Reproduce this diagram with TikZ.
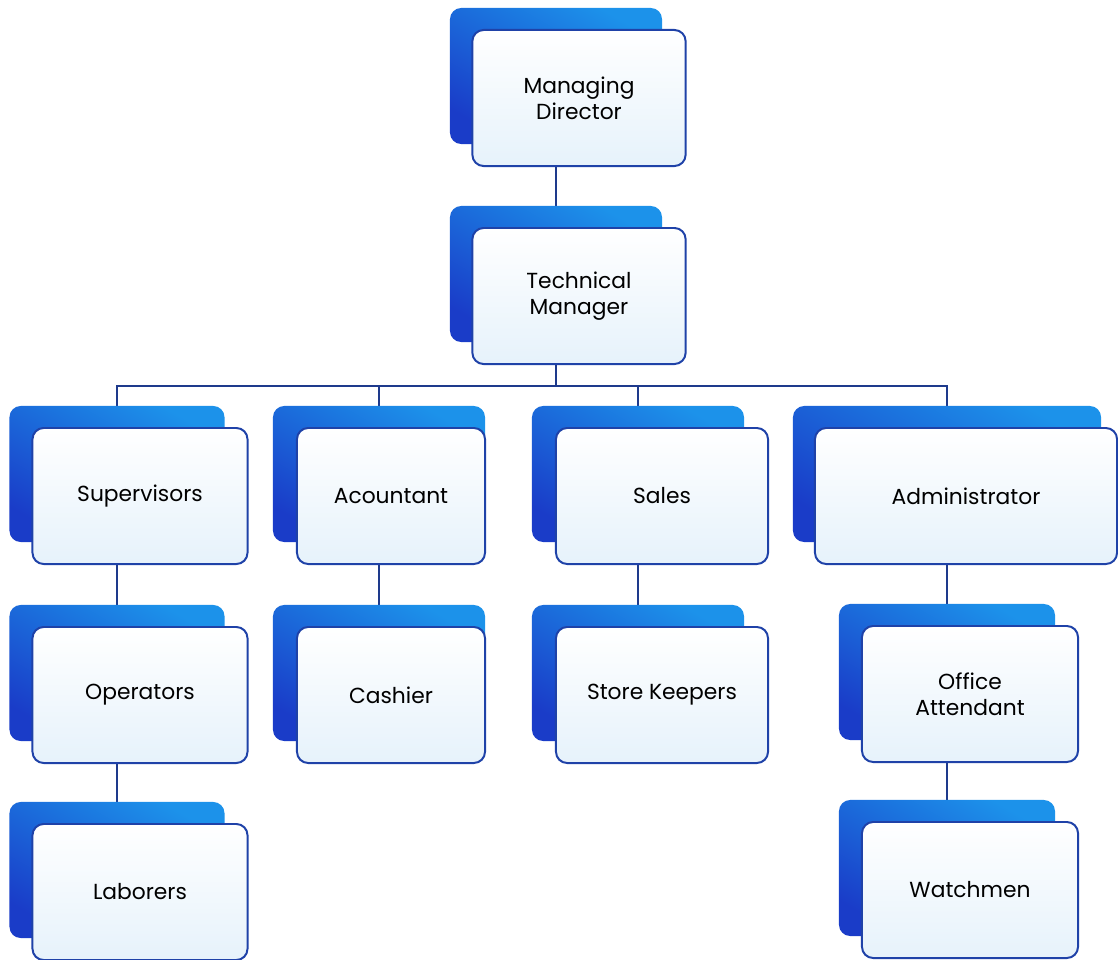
\documentclass[tikz,border=0pt]{standalone}
\usepackage{fontspec}
\setmainfont{Poppins}
\usepackage{xcolor}
\usepackage{tikz}
\usetikzlibrary{positioning,backgrounds}

\definecolor{cardline}{HTML}{1F42A8}
\definecolor{backtop}{HTML}{1C92EA}
\definecolor{backbot}{HTML}{1A3CC8}
\definecolor{cardtint}{HTML}{E6F2FB}
\definecolor{linkline}{HTML}{1E3A8C}

\tikzset{
	card/.style={draw=cardline,line width=1.4pt,rounded corners=0.28cm,
		top color=white,bottom color=cardtint,minimum height=3.4cm,
		align=center,font=\fontsize{15.5}{18.5}\selectfont,inner sep=2pt},
	cardback/.style={rounded corners=0.28cm,top color=backtop,bottom color=backbot,
		shading angle=-30,minimum height=3.4cm,inner sep=0pt},
	link/.style={draw=linkline,line width=1.2pt}
}

\begin{document}
\begin{tikzpicture}[x=0.025cm,y=-0.025cm]
		\useasboundingbox (0,0) rectangle (1118,960);
		% back cards
		\node[cardback,minimum width=5.3cm] (mdb) at (556,76) {};
		\node[cardback,minimum width=5.3cm] (tmb) at (556,274) {};
		\node[cardback,minimum width=5.375cm] (supb) at (117,474) {};
		\node[cardback,minimum width=5.3cm] (accb) at (379,474) {};
		\node[cardback,minimum width=5.3cm] (salb) at (638,474) {};
		\node[cardback,minimum width=7.7cm] (admb) at (947,474) {};
		\node[cardback,minimum width=5.375cm] (opb) at (117,673) {};
		\node[cardback,minimum width=5.3cm] (cashb) at (379,673) {};
		\node[cardback,minimum width=5.3cm] (storeb) at (638,673) {};
		\node[cardback,minimum width=5.4cm] (offb) at (947,672) {};
		\node[cardback,minimum width=5.375cm] (labb) at (117,870) {};
		\node[cardback,minimum width=5.4cm] (watchb) at (947,868) {};
		% front cards
		\node[card,minimum width=5.33cm] (md) at (579,98) {Managing\\Director};
		\node[card,minimum width=5.33cm] (tm) at (579,296) {Technical\\Manager};
		\node[card,minimum width=5.375cm] (sup) at (140,496) {Supervisors};
		\node[card,minimum width=4.7cm] (acc) at (391,496) {Acountant};
		\node[card,minimum width=5.3cm] (sal) at (662,496) {Sales};
		\node[card,minimum width=7.55cm] (adm) at (966,496) {Administrator};
		\node[card,minimum width=5.375cm] (op) at (140,695) {Operators};
		\node[card,minimum width=4.7cm] (cash) at (391,695) {Cashier};
		\node[card,minimum width=5.3cm] (store) at (662,695) {Store Keepers};
		\node[card,minimum width=5.4cm] (off) at (970,694) {Office\\Attendant};
		\node[card,minimum width=5.375cm] (lab) at (140,892) {Laborers};
		\node[card,minimum width=5.4cm] (watch) at (970,890) {Watchmen};

		\coordinate (bus) at (556,386);
		\begin{scope}[on background layer]
			\draw[link] (mdb.south) -- (tmb.north);
			\draw[link] (tmb.south) -- (bus);
			\draw[link] (supb.north) |- (bus) -| (admb.north);
			\draw[link] (accb.north) -- (accb.north |- bus);
			\draw[link] (salb.north) -- (salb.north |- bus);
			\draw[link] (supb.south) -- (opb.north);
			\draw[link] (opb.south) -- (labb.north);
			\draw[link] (accb.south) -- (cashb.north);
			\draw[link] (salb.south) -- (storeb.north);
			\draw[link] (admb.south) -- (offb.north);
			\draw[link] (offb.south) -- (watchb.north);
		\end{scope}
\end{tikzpicture}
\end{document}
